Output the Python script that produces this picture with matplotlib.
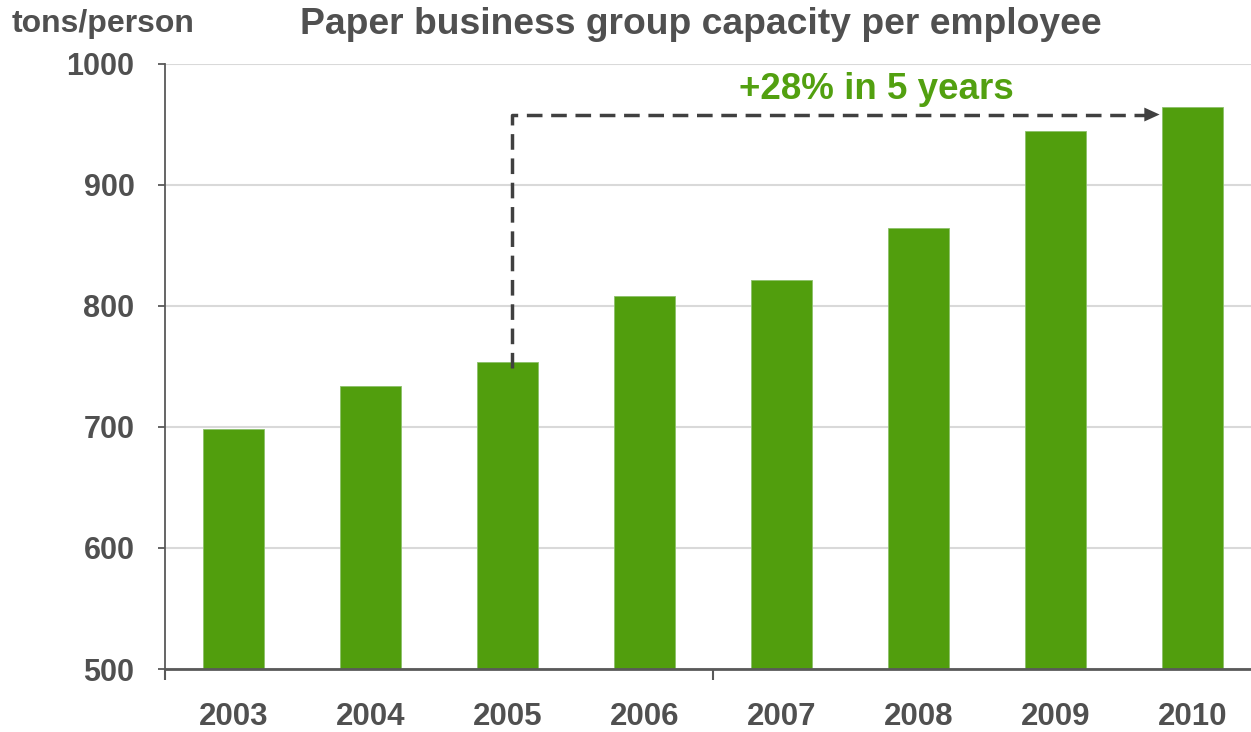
import matplotlib.pyplot as plt
from matplotlib.ticker import FixedLocator

# data
years = ["2003", "2004", "2005", "2006", "2007", "2008", "2009", "2010"]
capacity = [698, 734, 754, 808, 821, 864, 944, 964]
y_ticks = [500, 600, 700, 800, 900, 1000]

green = "#519e0d"
text_gray = "#505050"
plt.rcParams["font.family"] = ["Liberation Sans", "DejaVu Sans"]
plt.rcParams["font.weight"] = "bold"

fig = plt.figure(figsize=(12.51, 7.32), dpi=100)
ax = fig.add_axes([0.132, 0.086, 0.876, 0.827])

x = list(range(len(years)))
ax.bar(x, capacity, width=0.44, color=green, edgecolor="#8cc06a", linewidth=0.6, zorder=3)

ax.set_xlim(-0.5, len(years) - 0.5)
ax.set_ylim(500, 1000)
ax.set_yticks(y_ticks)
ax.set_yticklabels([str(t) for t in y_ticks], fontsize=22, fontweight="bold", color=text_gray)
ax.set_xticks(x)
ax.set_xticklabels(years, fontsize=22.5, fontweight="bold", color=text_gray)
ax.xaxis.set_minor_locator(FixedLocator([-0.5, 3.5]))
ax.tick_params(axis="x", which="major", length=0, pad=24)
ax.tick_params(axis="x", which="minor", length=8, width=1.5, color="#595959", direction="out")
ax.tick_params(axis="y", length=5, width=1.3, color="#595959", pad=17)

ax.grid(axis="y", color="#d9d9d9", linewidth=1.5, zorder=0)
for s in ["top", "right"]:
    ax.spines[s].set_visible(False)
ax.spines["left"].set_color("#595959")
ax.spines["left"].set_linewidth(1.3)
ax.spines["bottom"].set_color("#595959")
ax.spines["bottom"].set_linewidth(2)
ax.spines["bottom"].set_zorder(4)

# dashed growth arrow from 2005 to 2010
x0, y0 = 2.03, 749
y_top = 958
x_end = 6.78
ax.plot([x0, x0, x_end - 0.1], [y0, y_top, y_top], color="#404040", linewidth=2.5,
        linestyle=(0, (4.5, 2.5)), zorder=5, clip_on=False)
ax.annotate("", xy=(x_end, y_top), xytext=(x_end - 0.12, y_top),
            arrowprops=dict(arrowstyle="-|>,head_length=1.1,head_width=0.5",
                            color="#404040", lw=0), zorder=5)
ax.text(4.69, 979, "+28% in 5 years", color="#52a010", fontsize=26.5, fontweight="bold",
        ha="center", va="center")

fig.text(701 / 1251, 1 - 24 / 732, "Paper business group capacity per employee",
         ha="center", va="center", fontsize=26.8, fontweight="bold", color=text_gray)
fig.text(103 / 1251, 1 - 24 / 732, "tons/person", ha="center", va="center",
         fontsize=23, fontweight="bold", color=text_gray)

fig.savefig("out.png", dpi=100)
